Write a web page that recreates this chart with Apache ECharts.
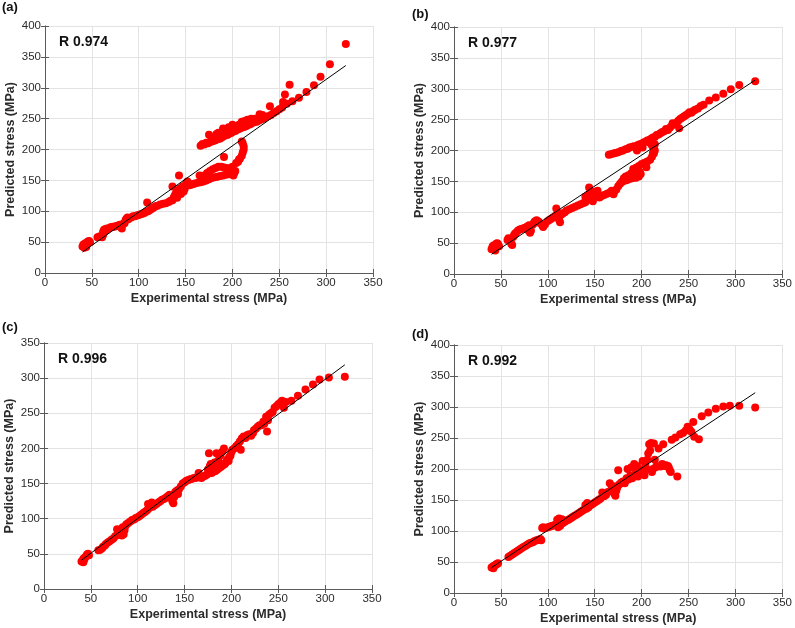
<!DOCTYPE html>
<html><head><meta charset="utf-8">
<script src="https://cdn.jsdelivr.net/npm/echarts@6/dist/echarts.min.js"></script>
<style>html,body{margin:0;padding:0;background:#fff}#c{width:795px;height:628px}</style>
</head><body><div id="c"></div>
<script>
const panelLabels = ['(a)', '(b)', '(c)', '(d)'];
const rLabels = ['R 0.974', 'R 0.977', 'R 0.996', 'R 0.992'];
const xAxisMax = 350;
const axisInterval = 50;
const yAxisMax = [400, 400, 350, 400];
const xName = 'Experimental stress (MPa)';
const yName = 'Predicted stress (MPa)';

const pointsA = [
[40,43],[41,46],[42,44],[43,48],[44,47],[45,50],[46,51],[47,52],[48,50],[44,42],[42,41],
[56,58],[58,59],[60,60],[61,58],[62,62],[62,67],[63,70],[64,71],[65,69],[66,72],[68,72],[70,74],[72,75],[74,75],[76,76],[78,77],[80,78],[81,74],[82,72],[83,79],[84,80],[85,81],[86,86],[87,88],[88,90],[89,87],[90,89],[92,90],[94,92],[96,92],[98,93],[100,94],[102,95],[104,96],[106,97],[108,99],[109,114],[110,100],[112,102],[114,104],[116,106],[118,108],[120,109],[123,111],[126,112],[129,113],[132,115],[134,117],[136,118],[137,121],[138,124],[136,140],[139,127],[140,130],[141,122],[142,126],[143,133],[143,158],[144,137],[145,128],[146,134],[147,140],[148,132],[149,136],[150,142],[151,146],[152,148],[153,144],[154,142],[156,143],[158,144],[160,145],[163,146],[166,147],[169,148],[172,150],[175,152],[178,154],[181,155],[184,156],[187,157],[190,158],[193,159],[196,160],[199,160],[201,158],[202,162],[203,165],[200,167],[197,169],[194,170],[191,171],[188,172],[185,172],[182,170],[179,168],[176,165],[173,162],[170,158],[167,157],[165,158],[191,188],[200,172],[204,178],[206,180],[207,184],[208,185],[210,190],[211,195],[212,200],[212,205],[211,210],[210,213],
[166,206],[168,209],[170,208],[172,211],[174,210],[175,224],[176,212],[178,213],[178,219],[180,214],[182,215],[183,225],[185,217],[185,227],[187,218],[189,220],[190,234],[191,222],[192,230],[193,223],[195,224],[196,236],[197,226],[199,227],[200,236],[200,240],[201,229],[203,230],[205,232],[206,238],[207,233],[207,240],[209,235],[210,245],[211,236],[213,237],[213,246],[215,238],[216,248],[217,240],[219,241],[220,250],[221,243],[223,244],[224,250],[226,245],[228,247],[229,257],[230,248],[232,256],[233,250],[235,252],[238,254],[240,270],[241,256],[244,259],[247,262],[250,265],[253,268],[254,277],[256,289],[258,274],[261,305],[264,278],[271,284],[279,293],[287,304],[294,318],[304,338],[321,371]
];

const pointsB = [
[40,40],[41,44],[42,46],[43,42],[44,47],[45,49],[46,50],[47,48],[48,45],[44,38],
[57,55],[58,58],[60,53],[61,49],[62,47],[63,60],[64,63],[65,65],[66,67],[68,70],[70,72],[72,73],[74,74],[76,75],[78,77],[80,79],[79,71],[81,67],[82,70],[84,80],[85,82],[86,85],[88,87],[90,85],[92,82],[94,79],[95,76],[97,80],[100,86],[102,88],[104,90],[106,92],[108,94],[109,106],[110,96],[111,99],[112,88],[113,84],[114,96],[116,98],[118,100],[120,103],[123,105],[126,107],[129,109],[132,111],[135,113],[138,115],[140,116],[140,125],[142,120],[143,128],[144,140],[145,122],[146,134],[147,130],[148,118],[150,125],[151,133],[152,128],[153,135],[155,124],[157,126],[160,128],[163,130],[166,132],[168,135],[170,129],[171,134],[173,137],[175,142],[177,146],[179,150],[181,155],[183,158],[186,160],[189,163],[192,165],[194,167],[196,168],[198,165],[199,162],[197,158],[194,156],[190,155],[187,154],[184,152],[180,150],[191,170],[194,172],[197,175],[200,178],[203,180],[205,173],[206,182],[209,185],[211,190],[212,196],[213,195],[214,200],[213,205],[211,208],
[165,193],[167,194],[170,195],[172,196],[175,197],[178,199],[180,200],[183,202],[185,203],[187,205],[190,206],[192,207],[194,205],[195,202],[195,200],[196,209],[198,210],[200,211],[201,205],[202,213],[204,214],[206,216],[208,217],[209,212],[210,219],[212,221],[214,210],[214,222],[216,225],[218,226],[220,228],[222,230],[224,231],[226,235],[228,233],[230,237],[232,240],[233,244],[235,243],[237,245],[239,248],[240,236],[241,251],[243,253],[245,255],[247,257],[249,259],[251,262],[253,261],[255,264],[257,266],[260,268],[263,272],[266,274],[272,281],[279,286],[287,292],[295,299],[304,306],[321,312]
];

const pointsC = [
[40,39],[41,40],[42,38],[43,42],[44,45],[45,47],[46,49],[47,50],[48,48],[42,43],
[58,55],[60,56],[62,58],[63,60],[65,62],[66,64],[68,66],[70,68],[72,70],[74,72],[76,75],[78,77],[78,85],[80,82],[82,80],[83,76],[84,88],[85,78],[86,84],[87,90],[88,92],[90,94],[92,96],[94,98],[96,99],[98,101],[100,102],[102,104],[104,106],[106,108],[108,110],[110,112],[111,121],[112,115],[114,118],[115,123],[116,117],[118,119],[120,121],[122,123],[124,125],[126,127],[128,128],[130,130],[132,132],[134,134],[136,129],[137,125],[138,122],[139,131],[140,138],[142,140],[143,135],[144,142],[146,146],[148,150],[150,152],[152,154],[154,155],[156,156],[158,157],[160,158],[162,158],[164,160],[165,165],[166,159],[168,158],[170,160],[172,161],[174,163],[175,170],[176,193],[177,175],[178,178],[179,165],[180,176],[181,167],[182,180],[183,168],[184,193],[185,170],[186,183],[187,172],[188,190],[189,174],[190,195],[191,176],[192,200],[193,178],[194,180],[195,183],[196,185],[197,182],[198,188],[199,190],[200,195],[201,198],[203,200],[205,203],[207,206],[209,210],[210,198],[211,214],[213,217],[215,215],[217,219],[219,220],[221,218],[223,222],[224,226],[226,228],[228,231],[230,233],[232,233],[234,238],[235,235],[237,245],[238,224],[239,240],[240,248],[242,250],[244,252],[246,258],[248,260],[250,263],[252,265],[254,268],[256,258],[258,266],[264,268],[271,275],[279,284],[287,291],[294,298],[304,301],[321,302]
];

const pointsD = [
[40,41],[41,42],[42,43],[43,44],[44,45],[45,46],[46,47],[47,48],[42,40],
[58,58],[60,60],[62,62],[64,64],[66,66],[68,68],[70,70],[72,72],[74,74],[76,76],[78,78],[80,80],[82,81],[84,82],[86,84],[88,85],[90,86],[92,87],[93,85],[94,105],[95,106],[96,104],[98,105],[100,106],[102,107],[104,108],[106,109],[108,110],[110,118],[111,106],[112,120],[113,108],[114,111],[115,119],[116,113],[118,115],[120,117],[122,118],[124,120],[126,122],[128,124],[130,126],[132,128],[134,130],[136,132],[138,134],[140,142],[141,136],[142,145],[143,138],[144,140],[146,142],[148,144],[150,146],[152,148],[154,150],[156,152],[158,162],[160,156],[162,158],[164,163],[166,177],[168,168],[170,172],[171,160],[172,157],[173,165],[174,170],[175,198],[176,175],[178,178],[180,180],[182,177],[184,185],[185,200],[186,183],[188,190],[189,203],[190,185],[192,208],[193,190],[194,195],[195,205],[196,188],[197,200],[198,193],[200,198],[201,213],[202,196],[203,190],[204,205],[205,200],[206,215],[207,225],[208,240],[209,230],[210,242],[211,195],[212,200],[213,241],[214,215],[215,203],[216,205],[218,233],[220,204],[222,208],[223,240],[224,205],[226,206],[228,205],[229,202],[230,198],[231,195],[232,247],[236,251],[238,188],[241,256],[244,258],[247,262],[249,268],[251,264],[253,260],[255,276],[256,252],[261,248],[264,285],[271,291],[279,297],[287,301],[294,302],[304,302],[321,299]
];

const fitA = [[40,34],[321,336]];
const fitB = [[40,32],[321,314]];
const fitC = [[40,41],[321,319]];
const fitD = [[40,41],[321,323]];

const allPoints = [pointsA, pointsB, pointsC, pointsD];
const allFits = [fitA, fitB, fitC, fitD];

const gridPos = [
  {left: 45, top: 26, width: 328, height: 247},
  {left: 454, top: 27, width: 333, height: 247},
  {left: 44, top: 343, width: 328, height: 246},
  {left: 454, top: 345, width: 332, height: 248}
];
const FONT = "'Liberation Sans', Arial, sans-serif";

const option = {
  animation: false,
  backgroundColor: '#fff',
  grid: [], xAxis: [], yAxis: [], series: [], graphic: []
};

gridPos.forEach((g, i) => {
  option.grid.push(Object.assign({containLabel: false}, g));
  const splitLine = {show: true, lineStyle: {color: '#e3e3e3', width: 1}};
  const axLine = {show: true, lineStyle: {color: '#5a5a5a', width: 1}};
  const tick = {show: true, inside: true, length: 4, lineStyle: {color: '#5a5a5a'}};
  option.xAxis.push({
    gridIndex: i, type: 'value', min: 0, max: xAxisMax, interval: axisInterval,
    position: 'bottom', axisLine: axLine, axisTick: tick, splitLine: splitLine,
    axisLabel: {color: '#2b2b2b', fontSize: 11.5, fontFamily: FONT, margin: 4},
    name: xName, nameLocation: 'middle', nameGap: 19,
    nameTextStyle: {color: '#2b2b2b', fontSize: 12.5, fontWeight: 'bold', fontFamily: FONT}
  });
  option.xAxis.push({
    gridIndex: i, type: 'value', min: 0, max: xAxisMax, interval: axisInterval,
    position: 'top', axisLine: axLine, axisTick: tick, splitLine: {show: false},
    axisLabel: {show: false}
  });
  option.yAxis.push({
    gridIndex: i, type: 'value', min: 0, max: yAxisMax[i], interval: axisInterval,
    position: 'left', axisLine: axLine, axisTick: tick, splitLine: splitLine,
    axisLabel: {color: '#2b2b2b', fontSize: 11.5, fontFamily: FONT, margin: 4},
    name: yName, nameLocation: 'middle', nameGap: 28,
    nameTextStyle: {color: '#2b2b2b', fontSize: 12.5, fontWeight: 'bold', fontFamily: FONT}
  });
  option.yAxis.push({
    gridIndex: i, type: 'value', min: 0, max: yAxisMax[i], interval: axisInterval,
    position: 'right', axisLine: axLine, axisTick: tick, splitLine: {show: false},
    axisLabel: {show: false}
  });
  option.series.push({
    type: 'scatter', xAxisIndex: 2 * i, yAxisIndex: 2 * i,
    data: allPoints[i], symbolSize: 8, z: 2,
    itemStyle: {color: '#ff0000', opacity: 1}
  });
  option.series.push({
    type: 'line', xAxisIndex: 2 * i, yAxisIndex: 2 * i,
    data: allFits[i], showSymbol: false, symbol: 'none', z: 3,
    lineStyle: {color: '#000', width: 1}
  });
  option.graphic.push({
    type: 'text', left: g.left + 14, top: g.top + 9, z: 10,
    style: {text: rLabels[i], fill: '#111', font: "bold 14px 'Liberation Sans', Arial, sans-serif"}
  });
});

const labelPos = [[2, 1], [412, 8], [2, 321], [412, 328]];
panelLabels.forEach((t, i) => {
  option.graphic.push({
    type: 'text', left: labelPos[i][0], top: labelPos[i][1], z: 10,
    style: {text: t, fill: '#111', font: "bold 13px 'Liberation Sans', Arial, sans-serif"}
  });
});

const chart = echarts.init(document.getElementById('c'), null, {renderer: 'canvas'});
chart.setOption(option);
</script>
</body></html>
